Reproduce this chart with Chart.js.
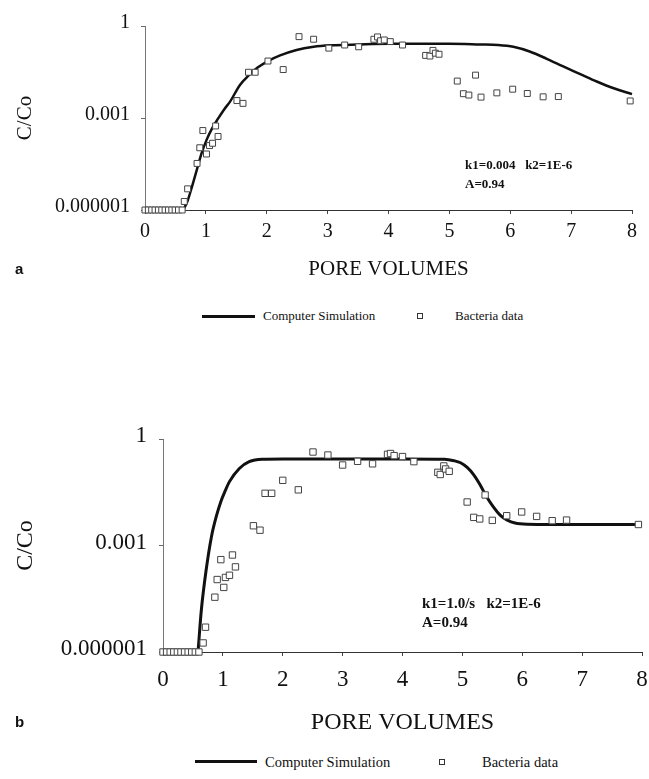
<!DOCTYPE html>
<html>
<head>
<meta charset="UTF-8">
<title>C/Co - pore volumes</title>
<script src="https://cdn.jsdelivr.net/npm/chart.js@4.4.1/dist/chart.umd.min.js"></script>
<style>
    body {
        margin: 0;
        width: 649px;
        height: 779px;
        overflow: hidden;
        position: relative;
        background: #fff;
        color: #111;
        font-family: "Liberation Serif", serif;
    }
    canvas { position: absolute; left: 0; }
    .txt { position: absolute; white-space: nowrap; }
    .panel { font-family: "Liberation Sans", Arial, sans-serif; font-weight: bold; font-size: 15px; line-height: 18px; }
    .note { font-weight: bold; }
    .legline { position: absolute; height: 3px; background: #111; }
    .legbox { position: absolute; width: 4px; height: 4px; border: 1px solid #333; background: #fff; }
</style>
</head>
<body>

<canvas id="chartA" width="649" height="300" style="top:0px"></canvas>
<canvas id="chartB" width="672" height="350" style="top:400px"></canvas>

<!-- panel a texts -->
<div class="txt note" style="left:465px; top:157px; font-size:13px; line-height:16px;">k1=0.004&nbsp;&nbsp;&nbsp;k2=1E-6</div>
<div class="txt note" style="left:465px; top:176px; font-size:13px; line-height:16px;">A=0.94</div>
<div class="txt panel" style="left:15px; top:260px;">a</div>
<div class="legline" style="left:202px; top:315px; width:53px;"></div>
<div class="txt" style="left:263px; top:308px; font-size:13px; line-height:16px;">Computer Simulation</div>
<div class="legbox" style="left:417px; top:313px;"></div>
<div class="txt" style="left:455px; top:308px; font-size:13px; line-height:16px;">Bacteria data</div>

<!-- panel b texts -->
<div class="txt note" style="left:422px; top:594px; font-size:15px; line-height:18px;">k1=1.0/s&nbsp;&nbsp;&nbsp;k2=1E-6</div>
<div class="txt note" style="left:422px; top:613px; font-size:15px; line-height:18px;">A=0.94</div>
<div class="txt panel" style="left:15px; top:713px;">b</div>
<div class="legline" style="left:195px; top:760px; width:62px;"></div>
<div class="txt" style="left:265px; top:753px; font-size:14.5px; line-height:18px;">Computer Simulation</div>
<div class="legbox" style="left:439px; top:759px;"></div>
<div class="txt" style="left:482px; top:753px; font-size:14.5px; line-height:18px;">Bacteria data</div>

<script>

    // axis ticks
    var xTicks = [0, 1, 2, 3, 4, 5, 6, 7, 8];
    var yTicks = [0.000001, 0.001, 1];
    var yTickLabels = ['0.000001', '0.001', '1'];

    //
    // panel a : k1=0.004
    //
    var simAx = [0.63, 0.70, 0.77, 0.85, 0.93, 1.01, 1.10, 1.20, 1.30, 1.40, 1.56, 1.70, 1.85, 2.02, 2.22,
                 2.49, 2.77, 3.05, 3.5, 4.0, 4.5, 5.0, 5.5, 5.8, 6.05, 6.33, 6.6, 6.87, 7.15, 7.42, 7.70, 8.0];
    var simAy = [1e-6, 2.0e-6, 5.6e-6, 2.0e-5, 7.1e-5, 1.9e-4, 4.5e-4, 9.5e-4, 1.9e-3, 3.5e-3, 0.012, 0.024, 0.044, 0.072, 0.11,
                 0.166, 0.21, 0.234, 0.25, 0.263, 0.263, 0.263, 0.25, 0.24, 0.21, 0.145, 0.085, 0.048, 0.027, 0.0155, 0.0093, 0.006];

    var bactAx = [0, 0.055, 0.11, 0.165, 0.22, 0.275, 0.33, 0.385, 0.44, 0.495, 0.55, 0.61,
                  0.645, 0.70, 0.855, 0.90, 0.95, 1.01, 1.06, 1.11, 1.16, 1.20, 1.51, 1.61, 1.70, 1.81,
                  2.02, 2.27, 2.53, 2.77, 3.02, 3.28, 3.51, 3.76, 3.82, 3.87, 3.93, 4.03, 4.23,
                  4.61, 4.68, 4.73, 4.77, 4.83, 5.13, 5.23, 5.32, 5.43, 5.52, 5.78, 6.04, 6.28, 6.54, 6.79, 7.97];
    var bactAy = [1e-6, 1e-6, 1e-6, 1e-6, 1e-6, 1e-6, 1e-6, 1e-6, 1e-6, 1e-6, 1e-6, 1e-6,
                  1.9e-6, 4.9e-6, 3.3e-5, 1.07e-4, 3.9e-4, 6.7e-5, 1.26e-4, 1.5e-4, 5.5e-4, 2.5e-4, 3.7e-3, 3.0e-3, 0.031, 0.031,
                  0.072, 0.038, 0.45, 0.37, 0.19, 0.24, 0.21, 0.37, 0.44, 0.33, 0.35, 0.31, 0.24,
                  0.11, 0.105, 0.16, 0.13, 0.12, 0.016, 0.0062, 0.0056, 0.025, 0.0048, 0.0066, 0.0087, 0.0063, 0.0049, 0.005, 0.0036];

    //
    // panel b : k1=1.0/s
    //
    var simBx = [0.585, 0.64, 0.72, 0.81, 0.89, 0.97, 1.04, 1.11, 1.275, 1.44, 1.66, 2.0, 3.0, 4.0, 4.7,
                 4.86, 4.97, 5.08, 5.19, 5.30, 5.39, 5.52, 5.63, 5.75, 5.88, 6.08, 7.0, 8.0];
    var simBy = [1e-6, 1.5e-5, 2.0e-4, 1.8e-3, 6.6e-3, 0.018, 0.035, 0.063, 0.148, 0.23, 0.27, 0.275, 0.275, 0.275, 0.27,
                 0.245, 0.214, 0.158, 0.098, 0.050, 0.026, 0.012, 0.0072, 0.0052, 0.0043, 0.0040, 0.0039, 0.0039];

    var bactBx = [0, 0.06, 0.12, 0.18, 0.24, 0.30, 0.36, 0.42, 0.48, 0.54, 0.60,
                  0.67, 0.71, 0.866, 0.905, 0.966, 1.015, 1.043, 1.11, 1.16, 1.21, 1.51, 1.62, 1.705, 1.815,
                  2.00, 2.26, 2.505, 2.754, 3.00, 3.25, 3.50, 3.75, 3.80, 3.86, 4.00, 4.19,
                  4.59, 4.63, 4.69, 4.72, 4.78, 5.08, 5.19, 5.29, 5.38, 5.50, 5.74, 5.99, 6.24, 6.50, 6.74, 7.94];
    var bactBy = [1e-6, 1e-6, 1e-6, 1e-6, 1e-6, 1e-6, 1e-6, 1e-6, 1e-6, 1e-6, 1e-6,
                  1.8e-6, 5e-6, 3.5e-5, 1.1e-4, 4.0e-4, 6.6e-5, 1.26e-4, 1.45e-4, 5.4e-4, 2.5e-4, 3.6e-3, 2.7e-3, 0.0295, 0.0295,
                  0.0685, 0.037, 0.43, 0.354, 0.185, 0.235, 0.20, 0.37, 0.39, 0.34, 0.32, 0.23,
                  0.115, 0.10, 0.174, 0.143, 0.123, 0.0168, 0.0062, 0.0056, 0.0265, 0.0051, 0.0069, 0.0088, 0.0066, 0.005, 0.0052, 0.0039];


    function pts(xs, ys) {
        return xs.map(function(x, i) { return {x: x, y: ys[i]}; });
    }

    function makeChart(id, c) {
        return new Chart(document.getElementById(id), {
            type: 'scatter',
            data: {
                datasets: [
                    {
                        label: 'Bacteria data',
                        data: pts(c.bx, c.by),
                        pointStyle: 'rect',
                        pointRadius: c.pointRadius,
                        borderColor: '#444',
                        borderWidth: 1,
                        backgroundColor: '#fff',
                        clip: false,
                        order: 1
                    },
                    {
                        label: 'Computer Simulation',
                        data: pts(c.sx, c.sy),
                        showLine: true,
                        cubicInterpolationMode: 'monotone',
                        pointRadius: 0,
                        borderColor: '#111',
                        borderWidth: c.lineWidth,
                        fill: false,
                        clip: false,
                        order: 2
                    }
                ]
            },
            options: {
                responsive: false,
                animation: false,
                events: [],
                layout: { padding: c.padding },
                plugins: {
                    legend: { display: false },
                    tooltip: { enabled: false }
                },
                scales: {
                    x: {
                        type: 'linear',
                        min: 0,
                        max: 8,
                        afterBuildTicks: function(s) { s.ticks = xTicks.map(function(v) { return {value: v}; }); },
                        afterFit: function(s) { s.height = c.xHeight; },
                        grid: { drawOnChartArea: false, drawTicks: true, tickLength: 4, color: '#444' },
                        border: { display: true, color: '#333', width: 1 },
                        ticks: {
                            color: '#111',
                            padding: c.xPad,
                            maxRotation: 0,
                            font: { family: 'Liberation Serif', size: c.tickSize }
                        },
                        title: {
                            display: true,
                            text: 'PORE VOLUMES',
                            color: '#111',
                            padding: { top: 0, bottom: c.xTitlePad },
                            font: { family: 'Liberation Serif', size: c.titleSize }
                        }
                    },
                    y: {
                        type: 'logarithmic',
                        min: 0.000001,
                        max: 1,
                        afterBuildTicks: function(s) { s.ticks = yTicks.map(function(v) { return {value: v}; }); },
                        afterFit: function(s) { s.width = c.yWidth; },
                        grid: { drawOnChartArea: false, drawTicks: true, tickLength: 4, color: '#666' },
                        border: { display: true, color: '#777', width: 1 },
                        ticks: {
                            color: '#111',
                            padding: c.yPad,
                            labelOffset: -3,
                            font: { family: 'Liberation Serif', size: c.tickSize },
                            callback: function(v) {
                                var i = yTicks.indexOf(v);
                                return i < 0 ? '' : yTickLabels[i];
                            }
                        },
                        title: {
                            display: true,
                            text: 'C/Co',
                            color: '#111',
                            padding: { top: c.yTitlePad, bottom: 0 },
                            font: { family: 'Liberation Serif', size: c.titleSize }
                        }
                    }
                }
            }
        });
    }

    makeChart('chartA', {
        sx: simAx, sy: simAy, bx: bactAx, by: bactAy,
        padding: { left: 0, top: 26, right: 17, bottom: 0 },
        yWidth: 145, xHeight: 90,
        tickSize: 20, titleSize: 21,
        xPad: 6, yPad: 11,
        xTitlePad: 18, yTitlePad: 13,
        pointRadius: 4.2, lineWidth: 2.5
    });

    // canvas b is a little wider than the page so the axis can reach x=8 near the edge
    makeChart('chartB', {
        sx: simBx, sy: simBy, bx: bactBx, by: bactBy,
        padding: { left: 0, top: 39, right: 30, bottom: 0 },
        yWidth: 163, xHeight: 98,
        tickSize: 23, titleSize: 24,
        xPad: 10, yPad: 12,
        xTitlePad: 13, yTitlePad: 11,
        pointRadius: 4.5, lineWidth: 3
    });

</script>
</body>
</html>
